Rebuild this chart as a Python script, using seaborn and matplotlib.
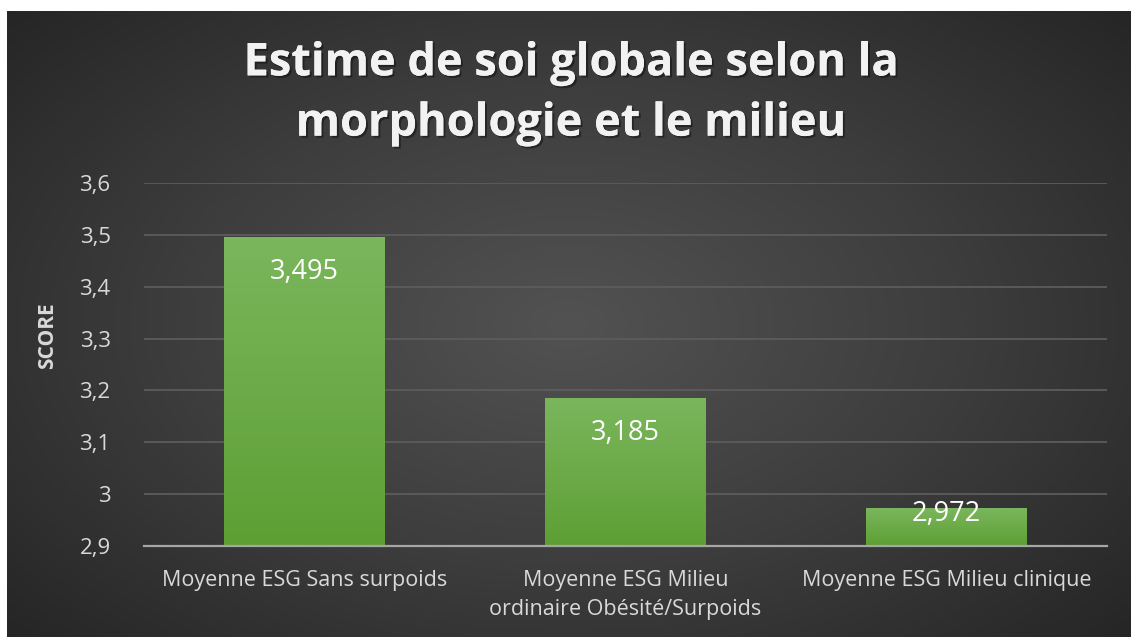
import numpy as np
import pandas as pd
import matplotlib
matplotlib.use("Agg")
import matplotlib.pyplot as plt
import matplotlib.patheffects as pe
import seaborn as sns

## Data
categories = ["Moyenne ESG Sans surpoids",
              "Moyenne ESG Milieu\nordinaire Obésité/Surpoids",
              "Moyenne ESG Milieu clinique"]
scores = [3.495, 3.185, 2.972]
y_ticks = [2.9, 3.0, 3.1, 3.2, 3.3, 3.4, 3.5, 3.6]
y_min, y_max = 2.9, 3.6

df = pd.DataFrame({"categorie": categories, "score": scores})

sns.set_theme(style="dark")
plt.rcParams['font.family'] = ['Open Sans', 'DejaVu Sans']

fig = plt.figure(figsize=(11.31, 6.37), dpi=100, facecolor="white")

## dark background panel with radial gradient
bg = fig.add_axes([7 / 1131, 0, 1 - 7 / 1131, 1 - 11 / 637], zorder=0)
yy, xx = np.mgrid[-1:1:300j, -1:1:500j]
r = np.sqrt((xx / 1.0) ** 2 + (yy / 1.1) ** 2)
bg.imshow(np.clip(r, 0, 1.4), cmap=matplotlib.colors.LinearSegmentedColormap.from_list(
    "bg", ["#525252", "#3d3d3d", "#242424"]), aspect="auto", vmin=0, vmax=1.4,
    extent=[0, 1, 0, 1])
bg.set_axis_off()

ax = fig.add_axes([144 / 1131, 91 / 637, 963 / 1131, 363 / 637], zorder=1)
ax.patch.set_alpha(0)

sns.barplot(data=df, x="categorie", y="score", color="#6aab45", width=0.5,
            saturation=1, linewidth=0, ax=ax, zorder=3)

## vertical green gradient over the visible part of each bar
grad = np.linspace(0, 1, 100).reshape(-1, 1)
gcmap = matplotlib.colors.LinearSegmentedColormap.from_list("g", ["#5e9f34", "#7ab65c"])
for p in ax.patches:
    x0, w = p.get_x(), p.get_width()
    top = p.get_y() + p.get_height()
    ax.imshow(grad, cmap=gcmap, aspect="auto", origin="lower",
              extent=[x0, x0 + w, y_min, top], zorder=3.5)
ax.set_xlim(-0.5, 2.5)

ax.set_ylim(y_min, y_max)
ax.set_yticks(y_ticks)
ax.set_yticklabels([f"{t:g}".replace(".", ",") for t in y_ticks])
ax.yaxis.grid(True, color="#5c5c5c", linewidth=1.3, zorder=0)
ax.xaxis.grid(False)
for s in ["top", "right", "left"]:
    ax.spines[s].set_visible(False)
ax.spines["bottom"].set_color("#a6a6a6")
ax.spines["bottom"].set_linewidth(1.6)
ax.spines["bottom"].set_zorder(4)
ax.tick_params(axis="both", length=0, colors="#d9d9d9")
ax.tick_params(axis="y", pad=24, labelsize=16)
ax.tick_params(axis="x", pad=17, labelsize=15.5)
for lbl in ax.get_xticklabels():
    lbl.set_linespacing(1.5)
ax.set_xlabel("")
ax.set_ylabel("SCORE", color="#d9d9d9", fontsize=15, fontweight="bold")
ax.yaxis.set_label_coords(-86 / 963, 0.58)

## value labels inside the bars
for p, v in zip(ax.patches, scores):
    top = p.get_y() + p.get_height()
    off = -35 if (v - y_min) > 0.1 else -5
    ax.annotate(f"{v:.3f}".replace(".", ","), (p.get_x() + p.get_width() / 2, top),
                xytext=(0, off), textcoords="offset pixels", ha="center", va="center",
                color="white", fontsize=19.5, zorder=5)

## title
fig.text(0.505, 1 - 94 / 637, "Estime de soi globale selon la\nmorphologie et le milieu",
         ha="center", va="center", color="#f2f2f2", fontsize=32.5, fontweight="bold",
         linespacing=1.45,
         path_effects=[pe.withSimplePatchShadow(offset=(1.5, -1.5), shadow_rgbFace="black", alpha=0.4),
                       pe.Normal()])

fig.savefig("out.png", dpi=100, facecolor="white")
